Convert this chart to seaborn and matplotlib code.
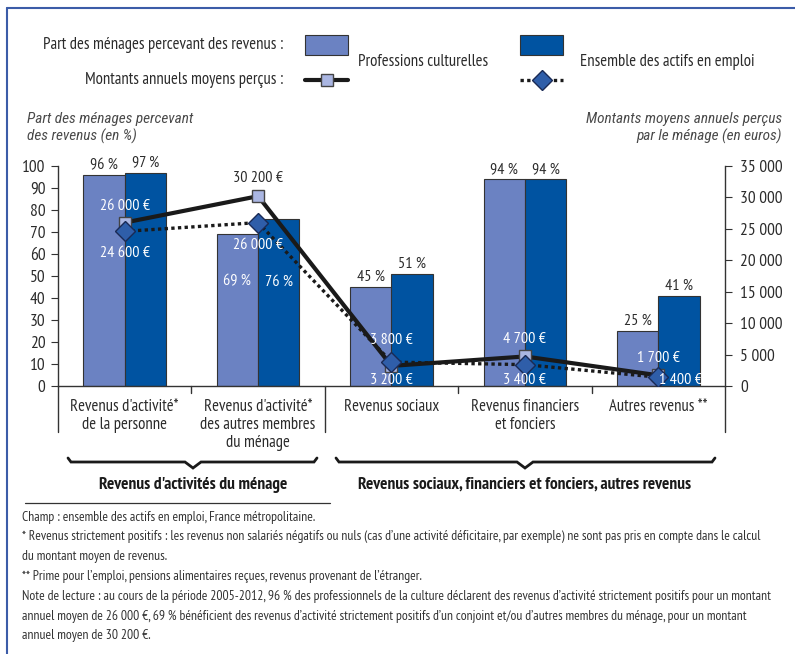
import numpy as np
import pandas as pd
import matplotlib
matplotlib.use("Agg")
import matplotlib.pyplot as plt
from matplotlib.lines import Line2D
from matplotlib.patches import Rectangle
import matplotlib.transforms as mtransforms
import seaborn as sns

# ---------------- data ----------------
categories = ["Revenus d'activité*\nde la personne",
              "Revenus d'activité*\ndes autres membres\ndu ménage",
              "Revenus sociaux",
              "Revenus financiers\net fonciers",
              "Autres revenus **"]
series = ["Professions culturelles", "Ensemble des actifs en emploi"]
pct_culture = [96, 69, 45, 94, 25]
pct_ensemble = [97, 76, 51, 94, 41]
amount_culture = [26000, 30200, 3200, 4700, 1700]
amount_ensemble = [24600, 26000, 3800, 3400, 1400]
pct_labels_culture = ["96 %", "69 %", "45 %", "94 %", "25 %"]
pct_labels_ensemble = ["97 %", "76 %", "51 %", "94 %", "41 %"]
amount_labels_culture = ["26 000 €", "30 200 €", "3 200 €", "4 700 €", "1 700 €"]
amount_labels_ensemble = ["24 600 €", "26 000 €", "3 800 €", "3 400 €", "1 400 €"]
left_ticks = list(range(0, 101, 10))
right_ticks = [0, 5000, 10000, 15000, 20000, 25000, 30000, 35000]
right_tick_labels = ["0", "5 000", "10 000", "15 000", "20 000", "25 000", "30 000", "35 000"]
group_labels = ["Revenus d'activités du ménage",
                "Revenus sociaux, financiers et fonciers, autres revenus"]
notes = [
    "Champ : ensemble des actifs en emploi, France métropolitaine.",
    "* Revenus strictement positifs : les revenus non salariés négatifs ou nuls (cas d’une activité déficitaire, par exemple) ne sont pas pris en compte dans le calcul",
    "du montant moyen de revenus.",
    "** Prime pour l’emploi, pensions alimentaires reçues, revenus provenant de l’étranger.",
    "Note de lecture : au cours de la période 2005-2012, 96 % des professionnels de la culture déclarent des revenus d’activité strictement positifs pour un montant",
    "annuel moyen de 26 000 €, 69 % bénéficient des revenus d’activité strictement positifs d’un conjoint et/ou d’autres membres du ménage, pour un montant",
    "annuel moyen de 30 200 €.",
]

# ---------------- style ----------------
sns.set_theme(style="white")
FONT = ["PT Sans Narrow", "DejaVu Sans"]
ITAL = ["Roboto Condensed", "DejaVu Sans"]
plt.rcParams["font.family"] = FONT
TXT = "#2b2b2b"
LIGHT = "#6b82c2"
DARK = "#0053a1"
SQ_FACE = "#aab6e2"
DIA_FACE = "#2f5ea9"
FRAME = "#3b5ca8"

W, H = 795, 654
fig = plt.figure(figsize=(W / 100, H / 100), dpi=100)
fx = lambda px: px / W
fy = lambda py: 1 - py / H

ax_left, ax_right, ax_top, ax_bot = 58, 725, 166, 386
ax = fig.add_axes([fx(ax_left), fy(ax_bot), fx(ax_right - ax_left), (ax_bot - ax_top) / H])

df = pd.DataFrame({
    "cat": categories * 2,
    "serie": [series[0]] * 5 + [series[1]] * 5,
    "pct": pct_culture + pct_ensemble,
})
sns.barplot(data=df, x="cat", y="pct", hue="serie", order=categories, hue_order=series,
            palette=[LIGHT, DARK], width=0.62, saturation=1, edgecolor="#333333",
            linewidth=0.8, ax=ax, legend=False, errorbar=None)

ax.set_xlim(-0.5, len(categories) - 0.5)
ax.set_ylim(0, 100)
ax.set_yticks(left_ticks)
ax.set_yticklabels([str(t) for t in left_ticks], fontsize=12.5, color=TXT)
ax.set_xlabel("")
ax.set_ylabel("")
ax.tick_params(axis="y", which="both", left=True, length=5, width=0.8, color="#333333", pad=4)
ax.tick_params(axis="x", length=0, pad=9)
ax.set_xticks(range(len(categories)))
ax.set_xticklabels(categories, fontsize=12, color=TXT, linespacing=1.2, va="top")
for s in ["top", "right"]:
    ax.spines[s].set_visible(False)
for s in ["left", "bottom"]:
    ax.spines[s].set_color("#333333")
    ax.spines[s].set_linewidth(1.0)
ax.grid(False)
ax.set_facecolor("none")

# bar labels from the drawn bars
inside = {1}
for cont, labels in zip(ax.containers, [pct_labels_culture, pct_labels_ensemble]):
    for i, (bar, lab) in enumerate(zip(cont.patches, labels)):
        xc = bar.get_x() + bar.get_width() / 2
        h = bar.get_height()
        if i in inside:
            ax.text(xc, 47.5, lab, ha="center", va="center", fontsize=11.5, color="white")
        else:
            ax.annotate(lab, (xc, h), xytext=(0, 3), textcoords="offset pixels",
                        ha="center", va="bottom", fontsize=11.5, color=TXT)

# secondary axis with amounts
ax2 = ax.twinx()
ax2.set_ylim(0, 35000)
xs = np.arange(len(categories))
ax2.plot(xs, amount_culture, color="#1a1a1a", lw=3, marker="s", ms=9,
         mfc=SQ_FACE, mec="#444444", mew=1.0, zorder=3, solid_capstyle="butt")
ax2.plot(xs, amount_ensemble, color="#1a1a1a", lw=2.4, ls=(0, (1, 1)), marker="D", ms=10,
         mfc=DIA_FACE, mec="#1a2a55", mew=1.0, zorder=4)
ax2.set_yticks(right_ticks)
ax2.set_yticklabels(right_tick_labels, fontsize=12.5, color=TXT)
ax2.tick_params(axis="y", right=True, length=5, width=0.8, color="#333333", pad=6)
for s in ["top", "left", "bottom"]:
    ax2.spines[s].set_visible(False)
ax2.spines["right"].set_color("#333333")
ax2.spines["right"].set_linewidth(1.0)
ax2.grid(False)

# amount labels (offsets in pixels: dx, dy, color)
off_c = [(0, 17, "white"), (0, 18, TXT), (0, -14, "white"), (0, 17, "white"), (0, 17, "white")]
off_e = [(0, -22, "white"), (0, -22, "white"), (0, 22, "white"), (0, -15, "white"), (22, -3, "white")]
for i in range(len(categories)):
    dx, dy, c = off_c[i]
    ax2.annotate(amount_labels_culture[i], (xs[i], amount_culture[i]), xytext=(dx, dy),
                 textcoords="offset pixels", ha="center", va="center", fontsize=11.5, color=c, zorder=6)
    dx, dy, c = off_e[i]
    ax2.annotate(amount_labels_ensemble[i], (xs[i], amount_ensemble[i]), xytext=(dx, dy),
                 textcoords="offset pixels", ha="center", va="center", fontsize=11.5, color=c, zorder=6)

# category dividers under the axis
trans = mtransforms.blended_transform_factory(ax.transData, ax.transAxes)
for b in np.arange(-0.5, len(categories), 1.0):
    long_ = b in (-0.5, 1.5, len(categories) - 0.5)
    y_end = -(432 - ax_bot) / (ax_bot - ax_top) if long_ else -(393 - ax_bot) / (ax_bot - ax_top)
    ax.add_line(Line2D([b, b], [0, y_end], transform=trans, color="#333333", lw=1.0, clip_on=False))

# braces
def brace(x0, x1, xm, y=462, depth=6):
    xs_ = [x0, x0 + 3, xm - 8, xm, xm + 8, x1 - 3, x1]
    ys_ = [y - 4, y, y, y + depth, y, y, y - 4]
    fig.add_artist(Line2D([fx(v) for v in xs_], [fy(v) for v in ys_], color="#1a1a1a", lw=2.0,
                          solid_joinstyle="miter"))

brace(68, 317, 193)
brace(336, 715, 525)
fig.text(fx(193), fy(485), group_labels[0], ha="center", va="center", fontsize=12.5,
         fontweight="bold", color="#1a1a1a")
fig.text(fx(525), fy(485), group_labels[1], ha="center", va="center", fontsize=12.5,
         fontweight="bold", color="#1a1a1a")
fig.add_artist(Line2D([fx(25), fx(330)], [fy(503), fy(503)], color="#333333", lw=0.9))

# axis titles
fig.text(fx(27), fy(128), "Part des ménages percevant\ndes revenus (en %)", ha="left", va="center",
         fontsize=11, style="italic", fontweight="normal", family=ITAL, color="#4a4a4a", linespacing=1.3)
fig.text(fx(782), fy(128), "Montants moyens annuels perçus\npar le ménage (en euros)", ha="right",
         va="center", fontsize=11, style="italic", fontweight="normal", family=ITAL, color="#4a4a4a",
         linespacing=1.3, multialignment="right")

# legend (manual)
fig.text(fx(283), fy(45), "Part des ménages percevant des revenus :", ha="right", va="center",
         fontsize=12, color=TXT)
fig.text(fx(283), fy(80), "Montants annuels moyens perçus :", ha="right", va="center",
         fontsize=12, color=TXT)
fig.add_artist(Rectangle((fx(305), fy(55)), fx(43), (55 - 35) / H, facecolor=LIGHT,
                         edgecolor="#333333", lw=0.8))
fig.add_artist(Rectangle((fx(520), fy(55)), fx(43), (55 - 35) / H, facecolor=DARK,
                         edgecolor="#333333", lw=0.8))
fig.add_artist(Line2D([fx(305), fx(348)], [fy(80), fy(80)], color="#1a1a1a", lw=3))
fig.add_artist(Line2D([fx(326.5)], [fy(80)], marker="s", ms=9, mfc=SQ_FACE, mec="#444444", mew=1.0))
fig.add_artist(Line2D([fx(520), fx(563)], [fy(80), fy(80)], color="#1a1a1a", lw=2.4, ls=(0, (1, 1))))
fig.add_artist(Line2D([fx(541.5)], [fy(80)], marker="D", ms=10, mfc=DIA_FACE, mec="#1a2a55", mew=1.0))
fig.text(fx(358), fy(62), series[0], ha="left", va="center", fontsize=12, color=TXT)
fig.text(fx(580), fy(62), series[1], ha="left", va="center", fontsize=12, color=TXT)

# notes
for k, line in enumerate(notes):
    fig.text(fx(22), fy(517 + k * 19.8), line, ha="left", va="center", fontsize=9.8, color="#333333")

# frame
fig.add_artist(Line2D([fx(7), fx(7)], [fy(8), 0], color=FRAME, lw=1.5))
fig.add_artist(Line2D([fx(7), 1], [fy(8), fy(8)], color=FRAME, lw=1.5))

fig.savefig("out.png", dpi=100)
